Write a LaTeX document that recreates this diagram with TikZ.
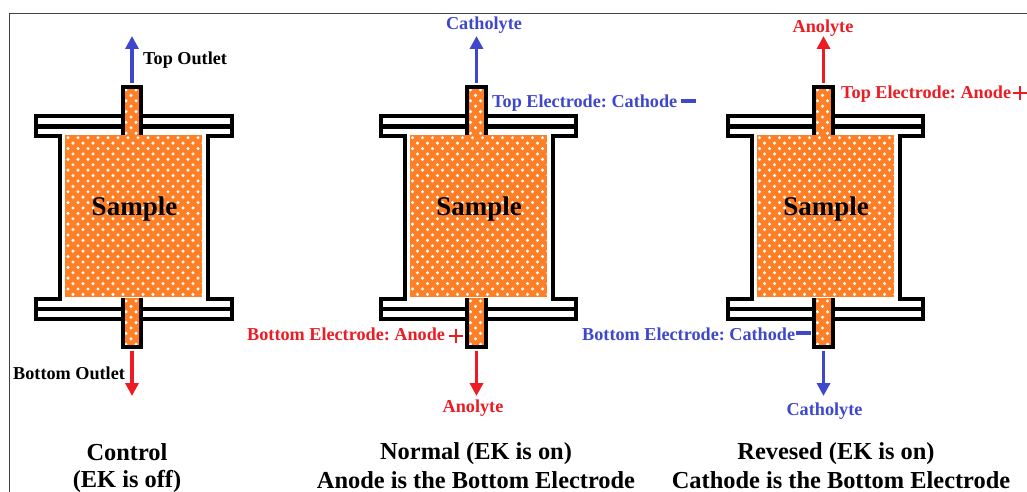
\documentclass[tikz,border=0pt]{standalone}
\usepackage{fontspec}
\setmainfont{Liberation Serif}
\usetikzlibrary{arrows.meta}
\definecolor{bluec}{HTML}{3F48CC}
\definecolor{redc}{HTML}{ED1C24}
\definecolor{orangec}{HTML}{FF7F27}
\newcommand{\whitedots}[2]{%
  \foreach \j in {0,...,#2} \foreach \i in {0,...,#1} {
    \pgfmathsetmacro{\xx}{3+10*\i+5*mod(\j,2)}
    \pgfmathsetmacro{\yy}{3+5.4*\j}
    \fill[white] ([shift={(\xx pt,-\yy pt)}]path picture bounding box.north west) circle (1.7pt);
  }}
\tikzset{
  x=1pt,y=-1pt,
  wall/.style={draw=black,line width=4pt,line join=miter},
  samplebox/.style={fill=orangec,inner sep=0,minimum width=137pt,minimum height=162.5pt,
    path picture={\whitedots{13}{30}}},
  tubebox/.style={fill=orangec,inner sep=0,minimum width=18pt,
    path picture={\whitedots{1}{10}}},
  lab/.style={inner sep=0,font=\fontsize{18.2}{20}\selectfont\bfseries\frenchspacing},
  captext/.style={inner sep=0,align=center,font=\fontsize{24.4}{27}\selectfont\bfseries},
  flowb/.style={draw=bluec,line width=3.8pt,-{Triangle[length=13pt,width=13pt]},shorten <=4pt},
  flowr/.style={draw=redc,line width=3.8pt,-{Triangle[length=13pt,width=13pt]},shorten <=4pt},
  signb/.style={draw=bluec,line width=4pt},
  signr/.style={draw=redc,line width=1.8pt},
}
\newcommand{\cell}[2]{%
  \begin{scope}[xshift=#2pt]
    \draw[wall,fill=white] (60,136)--(36,136)--(36,116)--(231.5,116)--(231.5,136)--(208,136)
      --(208,298.5)--(231.5,298.5)--(231.5,318.5)--(36,318.5)--(36,298.5)--(60,298.5)--cycle;
    \draw[wall] (36,126.5)--(231.5,126.5) (36,308.5)--(231.5,308.5);
    \node[tubebox,minimum height=48.5pt] (#1tt) at (132,111.25) {};
    \node[tubebox,minimum height=48.5pt] (#1tb) at (132,322.25) {};
    \draw[wall] (#1tt.south west) |- (#1tt.north east) -- (#1tt.south east);
    \draw[wall] (#1tb.north west) |- (#1tb.south east) -- (#1tb.north east);
    \node[samplebox] (#1s) at (133.5,216) {};
    \node[inner sep=0,font=\fontsize{27}{30}\selectfont\bfseries] (#1l) at (134.5,209) {Sample};
    \coordinate (#1up) at (132,36);
    \coordinate (#1dn) at (132,396);
  \end{scope}}
\begin{document}
\begin{tikzpicture}
\useasboundingbox (0,0) rectangle (1027,492);
\draw[black!75,line width=1.1pt] (9.5,492)--(9.5,13.5)--(1027,13.5);
\cell{a}{0}
\cell{b}{344.5}
\cell{c}{691.5}
% arrows
\draw[flowb] (att.north) -- (aup);
\draw[flowr] (atb.south) -- (adn);
\draw[flowb] (btt.north) -- (bup);
\draw[flowr] (btb.south) -- (bdn);
\draw[flowr] (ctt.north) -- (cup);
\draw[flowb] (ctb.south) -- (cdn);
% labels
\node[lab,anchor=west] (t1) at (143,60) {Top Outlet};
\node[lab,anchor=west] (t2) at (13,373.5) {Bottom Outlet};
\node[lab,text=bluec] (t3) at (484,25) {Catholyte};
\node[lab,text=bluec,anchor=west] (t4) at (492,103) {Top Electrode: Cathode};
\node[lab,text=redc] (t5) at (823,28.5) {Anolyte};
\node[lab,text=redc,anchor=west] (t6) at (841,94.5) {Top Electrode: Anode};
\node[lab,text=redc,anchor=west] (t7) at (247,334) {Bottom Electrode: Anode};
\node[lab,text=redc] (t8) at (473,408) {Anolyte};
\node[lab,text=bluec,anchor=west] (t9) at (582,334) {Bottom Electrode: Cathode};
\node[lab,text=bluec] (t10) at (824.5,411) {Catholyte};
% signs
\draw[signb] (681,101.5)--(696,101.5);
\draw[signb] (796,333)--(811,333);
\draw[signr] (1013,93)--(1027,93) (1020,86)--(1020,100);
\draw[signr] (449,336)--(463,336) (456,329)--(456,343);
% captions
\node[captext] (c1) at (127,452) {Control};
\node[captext] (c2) at (127,481.5) {(EK is off)};
\node[captext] (c3) at (476,454) {Normal (EK is on)};
\node[captext] (c4) at (476,480) {Anode is the Bottom Electrode};
\node[captext] (c5) at (836,454) {Revesed (EK is on)};
\node[captext] (c6) at (841,480) {Cathode is the Bottom Electrode};
\end{tikzpicture}
\end{document}
